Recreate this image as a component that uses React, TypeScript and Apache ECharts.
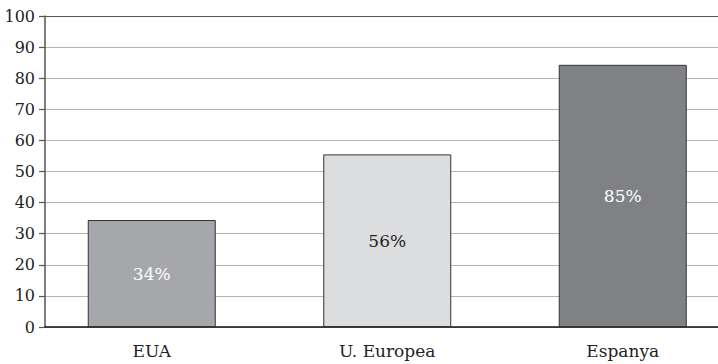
import React, { useEffect, useRef } from "react";
import * as echarts from "echarts";

const categories = ["EUA", "U. Europea", "Espanya"];
const values = [34.4, 55.5, 84.3];
const valueLabels = ["34%", "56%", "85%"];
const barColors = ["#a6a7ab", "#dcdddf", "#808185"];
const labelColors = ["#ffffff", "#222222", "#ffffff"];

const FONT = "DejaVu Serif";

export default function App() {
  const ref = useRef<HTMLDivElement>(null);
  useEffect(() => {
    if (!ref.current) return;
    const chart = echarts.init(ref.current, null, { renderer: "svg" });
    const gridColors = [
      "#b4b4b4", "#b4b4b4", "#b4b4b4", "#b4b4b4", "#b4b4b4", "#b4b4b4",
      "#b4b4b4", "#b4b4b4", "#b4b4b4", "#b4b4b4", "#555555",
    ];
    chart.setOption({
      animation: false,
      backgroundColor: "#ffffff",
      textStyle: { fontFamily: FONT },
      grid: [
        { left: 45, right: 0, top: 16, bottom: 37, containLabel: false, outerBoundsMode: "none" },
        { left: 34, width: 706.5, top: 16, bottom: 37, containLabel: false, outerBoundsMode: "none" },
      ],
      xAxis: [
        {
          type: "category",
          gridIndex: 0,
          data: categories,
          axisLine: { show: true, lineStyle: { color: "#111", width: 1.5 } },
          axisTick: { show: false },
          axisLabel: { show: false },
        },
        {
          type: "category",
          gridIndex: 1,
          data: categories,
          axisLine: { show: false },
          axisTick: { show: false },
          axisLabel: { fontFamily: FONT, fontSize: 17, color: "#222", margin: 15 },
        },
      ],
      yAxis: [
        {
          type: "value",
          gridIndex: 0,
          min: 0,
          max: 100,
          interval: 10,
          axisLine: { show: true, lineStyle: { color: "#555", width: 1.5 } },
          axisTick: { show: true, inside: false, length: 6, lineStyle: { color: "#555", width: 1.2 } },
          axisLabel: { fontFamily: FONT, fontSize: 16, color: "#222", margin: 10 },
          splitLine: { show: true, lineStyle: { color: gridColors, width: 1.2 } },
        },
        {
          type: "value",
          gridIndex: 1,
          min: 0,
          max: 100,
          interval: 10,
          show: false,
          splitLine: { show: false },
        },
      ],
      series: [
        {
          type: "bar",
          xAxisIndex: 1,
          yAxisIndex: 1,
          barWidth: 128,
          data: values.map((v, i) => ({
            value: v,
            itemStyle: { color: barColors[i], borderColor: "#333", borderWidth: 1 },
            label: {
              show: true,
              position: "inside",
              formatter: valueLabels[i],
              color: labelColors[i],
              fontFamily: FONT,
              fontSize: 17,
            },
          })),
        },
      ],
    });
    return () => chart.dispose();
  }, []);
  return (
    <div
      ref={ref}
      style={{ position: "fixed", left: 0, top: 0, width: 718, height: 364, background: "#fff" }}
    />
  );
}
